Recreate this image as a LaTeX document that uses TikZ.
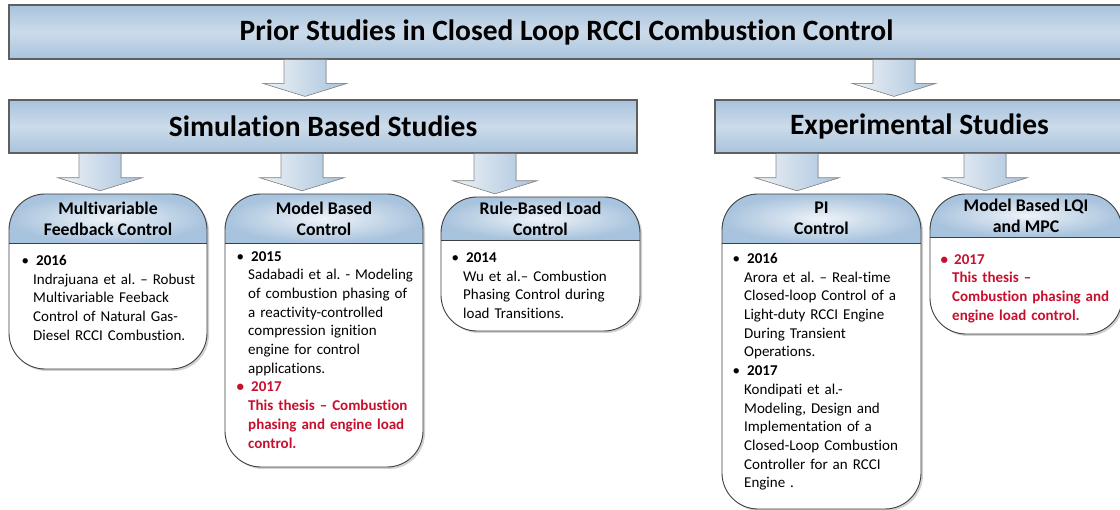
\documentclass[tikz,border=0pt]{standalone}
\usepackage{fontspec}
\setmainfont{Carlito}[Ligatures={NoCommon}]
\usetikzlibrary{calc,shadows}
\definecolor{barblue}{HTML}{A8C3DD}
\definecolor{barlight}{HTML}{CCDBEA}
\definecolor{headlight}{HTML}{EEF3F8}
\definecolor{arrowlight}{HTML}{EEF2F6}
\definecolor{edgegray}{HTML}{5F5F5F}
\definecolor{thesisred}{HTML}{C8102E}
\frenchspacing

\tikzset{
  bar/.style={draw=edgegray, line width=1.2pt, top color=barblue, bottom color=barblue,
    middle color=barlight, inner sep=0pt, font=\fontsize{29.5}{32}\selectfont\bfseries,
    drop shadow={shadow xshift=1pt, shadow yshift=-1.5pt, opacity=0.3}},
  boxline/.style={draw=black!75, line width=0.9pt},
  boxshadow/.style={fill=black!18},
  headshade/.style={inner color=headlight, outer color=barblue},
  headtext/.style={font=\fontsize{17.8}{21}\selectfont\bfseries, align=center, inner sep=0pt},
  bodytext/.style={font=\fontsize{15}{18.7}\selectfont, align=left, text width=185,
    anchor=north west, inner sep=0pt},
  flow/.style={draw=black!45, line width=0.6pt, left color=arrowlight, right color=barblue},
}

% block arrow: x position, from node, to node
\newcommand{\flowarrow}[3]{%
  \filldraw[flow] (#1-21,0 |- #2.south) -- ($(#1-21,0 |- #3.north)+(0,-16)$)
    -- ($(#1-42,0 |- #3.north)+(0,-16)$) -- ($(#1,0 |- #3.north)+(0,-3)$)
    -- ($(#1+42,0 |- #3.north)+(0,-16)$) -- ($(#1+21,0 |- #3.north)+(0,-16)$)
    -- (#1+21,0 |- #2.south);
}

\begin{document}
\begin{tikzpicture}[x=1pt, y=-1pt]
    \useasboundingbox (0,0) rectangle (1120,510);

    \node[bar, minimum width=1115, minimum height=54] (title) at (566.5,32)
        {Prior Studies in Closed Loop RCCI Combustion Control};
    \node[bar, minimum width=628, minimum height=53] (sim) at (323,126.5) {Simulation Based Studies};
    \node[bar, minimum width=409, minimum height=53] (exp) at (919.5,126.5) {Experimental Studies};

    % Multivariable feedback control
    \fill[boxshadow, rounded corners=36] (11,196) rectangle (209,371);
    \begin{scope}
        \clip[rounded corners=36] (9,194) rectangle (207,369);
        \fill[white] (9,194) rectangle (207,369);
        \shade[headshade] (9,194) rectangle (207,243);
    \end{scope}
    \draw[boxline, rounded corners=36] (9,194) rectangle (207,369);
    \draw[boxline] (9,243) -- (207,243);
    \node[headtext, minimum width=198, minimum height=49] (mfc) at (108,218.5)
        {Multivariable\\Feedback Control};
    \node[bodytext] (mfcbody) at (33,255) {\leavevmode\llap{\textbullet\hspace{4pt}}\hspace{3pt}\textbf{2016}\\
        Indrajuana et al. \textendash{} Robust\\
        Multivariable Feeback\\
        Control of Natural Gas-\\
        Diesel RCCI Combustion.};

    % Model based control
    \fill[boxshadow, rounded corners=36] (227,196) rectangle (425,469);
    \begin{scope}
        \clip[rounded corners=36] (225,194) rectangle (423,467);
        \fill[white] (225,194) rectangle (423,467);
        \shade[headshade] (225,194) rectangle (423,243);
    \end{scope}
    \draw[boxline, rounded corners=36] (225,194) rectangle (423,467);
    \draw[boxline] (225,243) -- (423,243);
    \node[headtext, minimum width=198, minimum height=49] (mbc) at (324,218.5)
        {Model Based\\Control};
    \node[bodytext] (mbcbody) at (248,251) {\leavevmode\llap{\textbullet\hspace{4pt}}\hspace{3pt}\textbf{2015}\\
        Sadabadi et al. - Modeling\\
        of combustion phasing of\\
        a reactivity-controlled\\
        compression ignition\\
        engine for control\\
        applications.\\
        \color{thesisred}\bfseries\leavevmode\llap{\textbullet\hspace{4pt}}\hspace{3pt}2017\\
        This thesis \textendash{} Combustion\\
        phasing and engine load\\
        control.};

    % Rule-based load control
    \fill[boxshadow, rounded corners=36] (443,199) rectangle (642,333);
    \begin{scope}
        \clip[rounded corners=36] (441,197) rectangle (640,331);
        \fill[white] (441,197) rectangle (640,331);
        \shade[headshade] (441,197) rectangle (640,240);
    \end{scope}
    \draw[boxline, rounded corners=36] (441,197) rectangle (640,331);
    \draw[boxline] (441,240) -- (640,240);
    \node[headtext, minimum width=199, minimum height=43] (rbc) at (540.5,218.5)
        {Rule-Based Load\\Control};
    \node[bodytext] (rbcbody) at (463,252.5) {\leavevmode\llap{\textbullet\hspace{4pt}}\hspace{3pt}\textbf{2014}\\
        Wu et al.\textendash{} Combustion\\
        Phasing Control during\\
        load Transitions.};

    % PI control
    \fill[boxshadow, rounded corners=36] (724,196) rectangle (923,511);
    \begin{scope}
        \clip[rounded corners=36] (722,194) rectangle (921,509);
        \fill[white] (722,194) rectangle (921,509);
        \shade[headshade] (722,194) rectangle (921,243);
    \end{scope}
    \draw[boxline, rounded corners=36] (722,194) rectangle (921,509);
    \draw[boxline] (722,243) -- (921,243);
    \node[headtext, minimum width=199, minimum height=49] (pic) at (821.5,218.5)
        {PI\\Control};
    \node[bodytext] (picbody) at (744,253) {\leavevmode\llap{\textbullet\hspace{4pt}}\hspace{3pt}\textbf{2016}\\
        Arora et al. \textendash{} Real-time\\
        Closed-loop Control of a\\
        Light-duty RCCI Engine\\
        During Transient\\
        Operations.\\
        \leavevmode\llap{\textbullet\hspace{4pt}}\hspace{3pt}\textbf{2017}\\
        Kondipati et al.-\\
        Modeling, Design and\\
        Implementation of a\\
        Closed-Loop Combustion\\
        Controller for an RCCI\\
        Engine .};

    % Model based LQI and MPC
    \fill[boxshadow, rounded corners=36] (932,196) rectangle (1124,336);
    \begin{scope}
        \clip[rounded corners=36] (930,194) rectangle (1122,334);
        \fill[white] (930,194) rectangle (1122,334);
        \shade[headshade] (930,194) rectangle (1122,237);
    \end{scope}
    \draw[boxline, rounded corners=36] (930,194) rectangle (1122,334);
    \draw[boxline] (930,237) -- (1122,237);
    \node[headtext, minimum width=192, minimum height=43] (lqi) at (1026,215.5)
        {Model Based LQI\\and MPC};
    \node[bodytext] (lqibody) at (952,254) {\color{thesisred}\bfseries\leavevmode\llap{\textbullet\hspace{4pt}}\hspace{2pt}2017\\
        This thesis \textendash\\
        Combustion phasing and\\
        engine load control.};

    \flowarrow{305}{title}{sim}
    \flowarrow{894}{title}{exp}
    \flowarrow{100}{sim}{mfc}
    \flowarrow{302}{sim}{mbc}
    \flowarrow{495}{sim}{rbc}
    \flowarrow{797}{exp}{pic}
    \flowarrow{985}{exp}{lqi}
\end{tikzpicture}
\end{document}
